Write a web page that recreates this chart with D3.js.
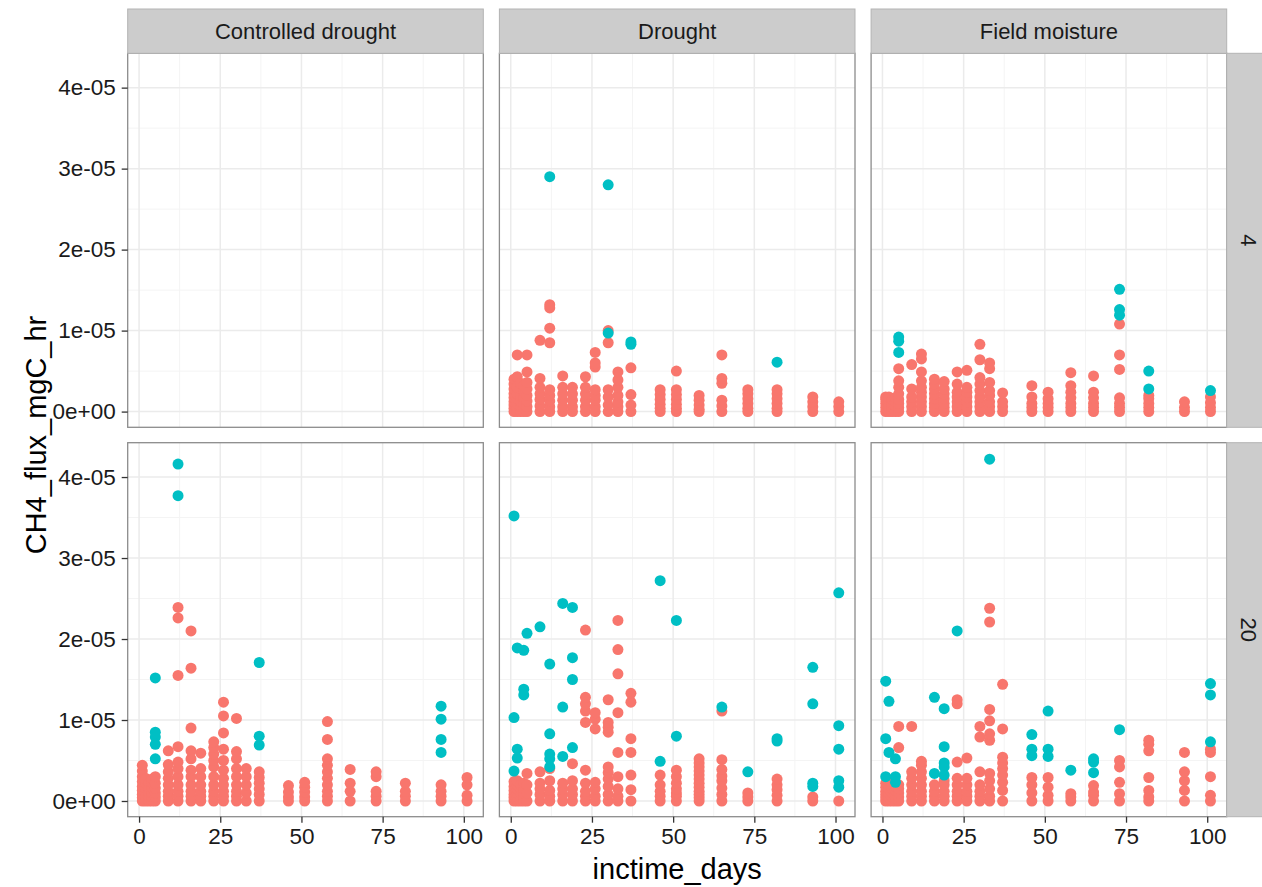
<!DOCTYPE html>
<html>
<head>
<meta charset="utf-8">
<script src="https://cdn.jsdelivr.net/npm/d3@7"></script>
<style>
  body { margin: 0; background: #ffffff; }
  svg { display: block; font-family: "Liberation Sans", Arial, Helvetica, sans-serif; }
</style>
</head>
<body>
<svg id="chart" width="1262" height="887"></svg>
<script>
// Facet levels
const columns = ["Controlled drought", "Drought", "Field moisture"];
const rows = ["4", "20"];

// Axis breaks
const xTicks = [0, 25, 50, 75, 100];
const xMinor = [12.5, 37.5, 62.5, 87.5];
const yTicks = [0, 1e-5, 2e-5, 3e-5, 4e-5];
const yMinor = [0.5e-5, 1.5e-5, 2.5e-5, 3.5e-5];

// Flux values are listed in units of 1e-05 mgC/hr, grouped by incubation day
const UNIT = 1e-5;

// Controlled drought, 4
const cdrought4_A = [];
const cdrought4_B = [];

// Drought, 4
const drought4_A = [
  [1, [0, .04, .08, .12, .17, .22, .28, .34, .4]],
  [2, [0, .05, .1, .16, .22, .3, .43, .7]],
  [3, [0, .06, .12, .2, .28, .35]],
  [4, [0, .05, .1, .18, .25, .32]],
  [5, [0, .06, .13, .2, .28, .36, .49, .7]],
  [9, [0, .07, .15, .22, .3, .41, .88]],
  [12, [0, .06, .13, .2, .27, .85, 1.03, 1.28, 1.32]],
  [16, [0, .06, .14, .22, .3, .44]],
  [19, [0, .06, .14, .22, .3]],
  [23, [0, .06, .14, .22, .3, .43]],
  [26, [0, .06, .14, .2, .27, .55, .6, .73]],
  [30, [0, .08, .18, .27, .85, 1.0]],
  [33, [0, .06, .12, .2, .3, .39, .49]],
  [37, [0, .08, .21, .54]],
  [46, [0, .04, .09, .15, .21, .27]],
  [51, [0, .04, .09, .15, .21, .27, .5]],
  [58, [0, .03, .08, .14, .2]],
  [65, [0, .07, .14, .35, .41, .7]],
  [73, [0, .04, .1, .16, .22, .27]],
  [82, [0, .04, .1, .16, .22, .27]],
  [93, [0, .06, .12, .18]],
  [101, [0, .06, .12]]
];
const drought4_B = [
  [12, [2.9]],
  [30, [2.8, .97]],
  [37, [.86, .83]],
  [82, [.61]]
];

// Field moisture, 4
const field4_A = [
  [1, [0, .05, .1, .15, .18]],
  [2, [0, .04, .09, .14, .18]],
  [3, [0, .05, .1, .15]],
  [4, [0, .06, .12, .17]],
  [5, [0, .05, .1, .15, .22, .3, .38, .53]],
  [9, [0, .06, .12, .18, .28, .58]],
  [12, [0, .06, .12, .18, .24, .3, .38, .49, .65, .71]],
  [16, [0, .05, .1, .16, .22, .28, .34, .4]],
  [19, [0, .05, .1, .16, .22, .28, .37]],
  [23, [0, .06, .12, .18, .24, .34, .49]],
  [26, [0, .06, .12, .18, .24, .3, .51]],
  [30, [0, .06, .12, .18, .26, .34, .42, .64, .83]],
  [33, [0, .06, .12, .2, .26, .36, .53, .6]],
  [37, [0, .06, .12, .23]],
  [46, [0, .05, .1, .18, .32]],
  [51, [0, .05, .1, .16, .24]],
  [58, [0, .05, .1, .17, .24, .32, .48]],
  [65, [0, .05, .1, .17, .24, .44]],
  [73, [0, .05, .1, .17, .52, .7, 1.08]],
  [82, [0, .05, .1, .16, .2]],
  [93, [0, .05, .12]],
  [101, [0, .05, .11, .18]]
];
const field4_B = [
  [5, [.92, .87, .73]],
  [73, [1.51, 1.26, 1.19]],
  [82, [.5, .28]],
  [101, [.26]]
];

// Controlled drought, 20
const cdrought20_A = [
  [1, [0, .04, .08, .13, .18, .24, .3, .37, .44]],
  [2, [0, .05, .1, .16, .22, .28]],
  [3, [0, .05, .1, .16, .22]],
  [4, [0, .05, .1, .16, .22, .27]],
  [5, [0, .05, .1, .16, .22, .3]],
  [9, [0, .06, .12, .2, .28, .36, .45, .62]],
  [12, [0, .06, .12, .2, .3, .4, .48, .67, 1.55, 2.26, 2.39]],
  [16, [0, .06, .12, .2, .3, .38, .52, .62, .9, 1.64, 2.1]],
  [19, [0, .06, .12, .2, .3, .4, .59]],
  [23, [0, .06, .12, .2, .3, .42, .5, .58, .66, .73]],
  [26, [0, .06, .12, .2, .28, .38, .5, .64, .84, 1.05, 1.22]],
  [30, [0, .06, .12, .2, .3, .4, .52, .61, 1.02]],
  [33, [0, .1, .2, .3, .4]],
  [37, [0, .08, .15, .22, .29, .36]],
  [46, [0, .05, .11, .19]],
  [51, [0, .05, .11, .17, .23]],
  [58, [0, .06, .12, .2, .28, .36, .44, .52, .76, .98]],
  [65, [0, .12, .22, .39]],
  [73, [0, .06, .12, .3, .36]],
  [82, [0, .06, .12, .22]],
  [93, [0, .06, .12, .2]],
  [101, [0, .07, .2, .29]]
];
const cdrought20_B = [
  [5, [1.52, .85, .79, .7, .52]],
  [12, [4.16, 3.77]],
  [37, [1.71, .8, .69]],
  [93, [1.17, 1.01, .76, .6]]
];

// Drought, 20
const drought20_A = [
  [1, [0, .04, .08, .13, .18, .24]],
  [2, [0, .05, .1, .15, .2, .25]],
  [3, [0, .05, .1, .15, .2]],
  [4, [0, .05, .1, .16, .22]],
  [5, [0, .1, .2, .34]],
  [9, [0, .08, .15, .22, .36]],
  [12, [0, .06, .13, .25, .4]],
  [16, [0, .08, .15, .22]],
  [19, [0, .08, .15, .25, .46]],
  [23, [0, .06, .12, .22, .38, .97, 1.11, 1.2, 1.28, 2.11]],
  [26, [0, .06, .15, .23, .89, 1.01, 1.09]],
  [30, [0, .08, .18, .27, .35, .42, .85, .91, .97, 1.25]],
  [33, [0, .06, .15, .3, .6, 1.09, 1.57, 1.87, 2.23]],
  [37, [0, .14, .32, .6, .77, 1.22, 1.33]],
  [46, [0, .06, .12, .2, .32]],
  [51, [0, .06, .1, .15, .22, .3, .38]],
  [58, [0, .04, .08, .12, .17, .22, .27, .32, .37, .42, .47, .52]],
  [65, [0, .08, .16, .25, .31, .39, .51, 1.11]],
  [73, [0, .05, .1]],
  [82, [0, .07, .14, .2, .27]],
  [93, [0, .05]],
  [101, [0]]
];
const drought20_B = [
  [1, [3.52, 1.03, .37]],
  [2, [1.89, .64, .53]],
  [4, [1.86, 1.38, 1.31]],
  [5, [2.07]],
  [9, [2.15]],
  [12, [1.69, .83, .58, .52, .42]],
  [16, [2.44, 1.16, .55]],
  [19, [2.39, 1.77, 1.5, .66]],
  [46, [2.72, .49]],
  [51, [2.23, .8]],
  [65, [1.16]],
  [73, [.36]],
  [82, [.77, .74]],
  [93, [1.65, 1.2, .22, .18]],
  [101, [2.57, .93, .64, .25, .17]]
];

// Field moisture, 20
const field20_A = [
  [1, [0, .04, .08, .12, .17, .22]],
  [2, [0, .05, .1, .15, .2, .25]],
  [3, [0, .05, .1, .15, .2]],
  [4, [0, .04, .08, .13, .18, .22]],
  [5, [0, .05, .1, .15, .2, .66, .92]],
  [9, [0, .06, .12, .2, .28, .36, .92]],
  [12, [0, .06, .12, .2, .28, .36, .44, .49]],
  [16, [0, .06, .12, .2]],
  [19, [0, .06, .12, .2, .25]],
  [23, [0, .06, .12, .2, .28, .48, 1.2, 1.25]],
  [26, [0, .06, .12, .2, .28, .53]],
  [30, [0, .06, .12, .2, .36, .79, .92]],
  [33, [0, .06, .15, .25, .34, .75, .83, .99, 1.13, 2.21, 2.38]],
  [37, [0, .13, .23, .32, .4, .47, .54, .89, 1.44]],
  [46, [0, .1, .2, .29]],
  [51, [0, .07, .17, .29]],
  [58, [0, .05, .09]],
  [65, [0, .07, .11, .19]],
  [73, [0, .09, .23, .42, .5]],
  [82, [0, .05, .13, .29, .62, .7, .75]],
  [93, [0, .13, .25, .36, .6]],
  [101, [0, .07, .3, .6, .64]]
];
const field20_B = [
  [1, [1.48, .77, .3]],
  [2, [1.23, .6]],
  [4, [.52, .3, .23]],
  [16, [1.28, .34]],
  [19, [1.14, .67, .47, .42, .32]],
  [23, [2.1]],
  [33, [4.22]],
  [46, [.82, .64, .56]],
  [51, [1.11, .64, .55]],
  [58, [.38]],
  [65, [.52, .48, .35]],
  [73, [.88]],
  [101, [1.45, 1.31, .73]]
];

// Colours of the two point groups (ggplot hue palette)
const groupColors = { A: "#F8766D", B: "#00BFC4" };

const panelData = {
  "4|Controlled drought": { A: cdrought4_A, B: cdrought4_B },
  "4|Drought": { A: drought4_A, B: drought4_B },
  "4|Field moisture": { A: field4_A, B: field4_B },
  "20|Controlled drought": { A: cdrought20_A, B: cdrought20_B },
  "20|Drought": { A: drought20_A, B: drought20_B },
  "20|Field moisture": { A: field20_A, B: field20_B }
};

// ---- Layout ----
const panelW = 355.6, panelH = 374;
const colLeft = [127.7, 499.4, 871.1];
const rowTop = [53.3, 442.7];
const stripTop = 9;
const stripRightW = 44;
const pointR = 5.5;

const svg = d3.select("#chart");
svg.append("rect").attr("width", 1262).attr("height", 887).attr("fill", "#ffffff");

const x = d3.scaleLinear().domain([-3.5, 106]).range([0, panelW]);
const y = d3.scaleLinear().domain([-0.194e-5, 4.424e-5]).range([panelH, 0]);

function sciLabel(d) {
  if (d === 0) return "0e+00";
  const [m, e] = d.toExponential(0).split("e");
  const sign = e[0] === "-" ? "-" : "+";
  const digits = e.replace(/[+-]/, "").padStart(2, "0");
  return m + "e" + sign + digits;
}

function expand(groups) {
  const out = [];
  groups.forEach(([day, vals]) => vals.forEach(v => out.push({ day, flux: v * UNIT })));
  return out;
}

rows.forEach((rowKey, ri) => {
  columns.forEach((colKey, ci) => {
    const g = svg.append("g")
      .attr("transform", `translate(${colLeft[ci]},${rowTop[ri]})`);

    g.append("rect").attr("width", panelW).attr("height", panelH).attr("fill", "#ffffff");

    // minor grid
    g.selectAll(".xminor").data(xMinor).enter().append("line")
      .attr("x1", d => x(d)).attr("x2", d => x(d))
      .attr("y1", 0).attr("y2", panelH)
      .attr("stroke", "#F4F4F4").attr("stroke-width", 1);
    g.selectAll(".yminor").data(yMinor).enter().append("line")
      .attr("y1", d => y(d)).attr("y2", d => y(d))
      .attr("x1", 0).attr("x2", panelW)
      .attr("stroke", "#F4F4F4").attr("stroke-width", 1);
    // major grid
    g.selectAll(".xmajor").data(xTicks).enter().append("line")
      .attr("x1", d => x(d)).attr("x2", d => x(d))
      .attr("y1", 0).attr("y2", panelH)
      .attr("stroke", "#EBEBEB").attr("stroke-width", 1.5);
    g.selectAll(".ymajor").data(yTicks).enter().append("line")
      .attr("y1", d => y(d)).attr("y2", d => y(d))
      .attr("x1", 0).attr("x2", panelW)
      .attr("stroke", "#EBEBEB").attr("stroke-width", 1.5);

    // points: group A first, group B on top
    const pd = panelData[rowKey + "|" + colKey];
    ["A", "B"].forEach(k => {
      g.selectAll(".pt" + k).data(expand(pd[k])).enter().append("circle")
        .attr("cx", d => x(d.day))
        .attr("cy", d => y(d.flux))
        .attr("r", pointR)
        .attr("fill", groupColors[k]);
    });

    // panel border
    g.append("rect").attr("width", panelW).attr("height", panelH)
      .attr("fill", "none").attr("stroke", "#8C8C8C").attr("stroke-width", 1.3);

    // axes on outer panels
    if (ci === 0) {
      const ax = g.append("g").call(
        d3.axisLeft(y).tickValues(yTicks).tickFormat(sciLabel).tickSize(6).tickPadding(6));
      ax.select(".domain").remove();
      ax.selectAll("line").attr("stroke", "#333333").attr("stroke-width", 1.3);
      ax.selectAll("text").attr("fill", "#1A1A1A").style("font-size", "22.5px")
        .attr("font-family", null);
    }
    if (ri === rows.length - 1) {
      const ax = g.append("g").attr("transform", `translate(0,${panelH})`).call(
        d3.axisBottom(x).tickValues(xTicks).tickSize(6).tickPadding(5));
      ax.select(".domain").remove();
      ax.selectAll("line").attr("stroke", "#333333").attr("stroke-width", 1.3);
      ax.selectAll("text").attr("fill", "#1A1A1A").style("font-size", "22.5px")
        .attr("font-family", null);
    }
  });
});

// column strips
columns.forEach((c, ci) => {
  svg.append("rect")
    .attr("x", colLeft[ci]).attr("y", stripTop)
    .attr("width", panelW).attr("height", rowTop[0] - stripTop)
    .attr("fill", "#CCCCCC").attr("stroke", "#B3B3B3").attr("stroke-width", 1);
  svg.append("text")
    .attr("x", colLeft[ci] + panelW / 2).attr("y", (stripTop + rowTop[0]) / 2)
    .attr("dy", "0.35em").attr("text-anchor", "middle")
    .style("font-size", "22px").attr("fill", "#1A1A1A").text(c);
});

// row strips
const stripLeft = colLeft[2] + panelW;
rows.forEach((r, ri) => {
  svg.append("rect")
    .attr("x", stripLeft).attr("y", rowTop[ri])
    .attr("width", stripRightW).attr("height", panelH)
    .attr("fill", "#CCCCCC").attr("stroke", "#B3B3B3").attr("stroke-width", 1);
  const cx = stripLeft + stripRightW / 2, cy = rowTop[ri] + panelH / 2;
  svg.append("text")
    .attr("transform", `translate(${cx},${cy}) rotate(90)`)
    .attr("dy", "0.35em").attr("text-anchor", "middle")
    .style("font-size", "22px").attr("fill", "#1A1A1A").text(r);
});

// axis titles
svg.append("text")
  .attr("x", (colLeft[0] + colLeft[2] + panelW) / 2).attr("y", 879)
  .attr("text-anchor", "middle").style("font-size", "29px").attr("fill", "#000")
  .text("inctime_days");
svg.append("text")
  .attr("transform", `translate(46,${(rowTop[0] + rowTop[1] + panelH) / 2}) rotate(-90)`)
  .attr("text-anchor", "middle").style("font-size", "29px").attr("fill", "#000")
  .text("CH4_flux_mgC_hr");
</script>
</body>
</html>
